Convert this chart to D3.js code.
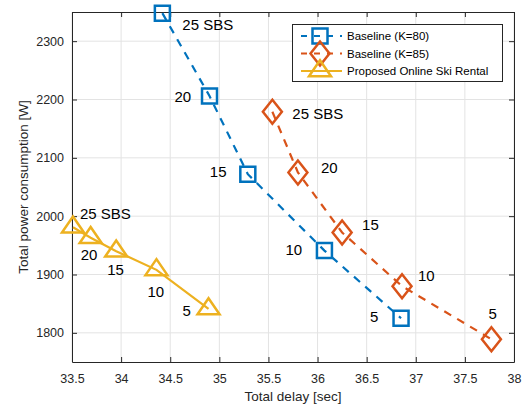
<!DOCTYPE html>
<html>
<head>
<meta charset="utf-8">
<script src="https://cdn.jsdelivr.net/npm/d3@7"></script>
<style>
  body { margin: 0; background: #fff; }
  svg text { font-family: "Liberation Sans", Arial, sans-serif; }
</style>
</head>
<body>
<div id="chart"></div>
<script>
// data
var sbsLabels = ["25 SBS", "20", "15", "10", "5"];

var k80Delay = [34.42, 34.90, 35.29, 36.07, 36.85];
var k80Power = [2348, 2206, 2072, 1941, 1825];

var k85Delay = [35.54, 35.80, 36.25, 36.86, 37.77];
var k85Power = [2179, 2075, 1972, 1880, 1789];

var skiDelay = [33.51, 33.69, 33.95, 34.36, 34.89];
var skiPower = [1981, 1963, 1940, 1908, 1841];

var seriesNames = ["Baseline (K=80)", "Baseline (K=85)", "Proposed Online Ski Rental"];

var xTicks = [33.5, 34, 34.5, 35, 35.5, 36, 36.5, 37, 37.5, 38];
var yTicks = [1800, 1900, 2000, 2100, 2200, 2300];

// label offsets in px (from marker centre)
var k80Off = [[20, 17], [-35, 6], [-38, 3], [-39, 4], [-31, 4]];
var k85Off = [[20, 7], [23, 1], [20, -3], [16, -5], [-3, -20]];
var skiOff = [[7, -8], [-10, 22], [-9, 24], [-9, 27], [-26, 7]];

function zip(xs, ys, offs){
    var out = [];
    for (var i = 0; i < xs.length; i ++){
        out.push({x: xs[i], y: ys[i], lab: sbsLabels[i], off: offs[i]});
    }
    return out;
}

var series = [
    {name: seriesNames[0], color: "#0072BD", dash: "8,7", marker: "square", pts: zip(k80Delay, k80Power, k80Off)},
    {name: seriesNames[1], color: "#D95319", dash: "8,7", marker: "diamond", pts: zip(k85Delay, k85Power, k85Off)},
    {name: seriesNames[2], color: "#EDB120", dash: null, marker: "triangle", pts: zip(skiDelay, skiPower, skiOff)}
];

var width = 526, height = 407;
var margin = {left: 72, top: 12, right: 12, bottom: 45};
var axColor = "#262626";

var svg = d3.select("#chart").append("svg")
    .attr("width", width)
    .attr("height", height);

var x = d3.scaleLinear().domain([33.5, 38]).range([margin.left, width - margin.right]);
var y = d3.scaleLinear().domain([1750, 2350]).range([height - margin.bottom, margin.top]);

// grid
svg.append("g").selectAll("line").data(xTicks).enter().append("line")
    .attr("x1", function(d){ return x(d); }).attr("x2", function(d){ return x(d); })
    .attr("y1", y.range()[0]).attr("y2", y.range()[1])
    .attr("stroke", "#e3e3e3").attr("stroke-width", 1);
svg.append("g").selectAll("line").data(yTicks).enter().append("line")
    .attr("y1", function(d){ return y(d); }).attr("y2", function(d){ return y(d); })
    .attr("x1", x.range()[0]).attr("x2", x.range()[1])
    .attr("stroke", "#e3e3e3").attr("stroke-width", 1);

// axes (ticks inward, box on)
function styleAxis(g){
    g.select(".domain").attr("stroke", axColor);
    g.selectAll(".tick line").attr("stroke", axColor);
    g.selectAll(".tick text").attr("fill", axColor).style("font-size", "12.5px");
}
var fmt = function(d){ return String(d); };

svg.append("g")
    .attr("transform", "translate(0," + y.range()[0] + ")")
    .call(d3.axisBottom(x).tickValues(xTicks).tickFormat(fmt).tickSizeInner(-5).tickSizeOuter(0).tickPadding(12))
    .call(styleAxis);
svg.append("g")
    .attr("transform", "translate(0," + y.range()[1] + ")")
    .call(d3.axisTop(x).tickValues(xTicks).tickFormat("").tickSizeInner(-5).tickSizeOuter(0))
    .call(styleAxis);
svg.append("g")
    .attr("transform", "translate(" + x.range()[0] + ",0)")
    .call(d3.axisLeft(y).tickValues(yTicks).tickFormat(fmt).tickSizeInner(-5).tickSizeOuter(0).tickPadding(8))
    .call(styleAxis);
svg.append("g")
    .attr("transform", "translate(" + x.range()[1] + ",0)")
    .call(d3.axisRight(y).tickValues(yTicks).tickFormat("").tickSizeInner(-5).tickSizeOuter(0))
    .call(styleAxis);

// axis labels
svg.append("text")
    .attr("x", (x.range()[0] + x.range()[1]) / 2)
    .attr("y", 401)
    .attr("text-anchor", "middle")
    .style("font-size", "13.5px")
    .attr("fill", axColor)
    .text("Total delay [sec]");
svg.append("text")
    .attr("transform", "translate(28," + (y.range()[0] + y.range()[1]) / 2 + ") rotate(-90)")
    .attr("text-anchor", "middle")
    .style("font-size", "13.5px")
    .attr("fill", axColor)
    .text("Total power consumption [W]");

// marker shapes
function markerPath(type){
    if (type == "square") return "M-7.5,-7.5H7.5V7.5H-7.5Z";
    if (type == "diamond") return "M0,-12L9.5,0L0,12L-9.5,0Z";
    return "M0,-10.7L11,5.3L-11,5.3Z";
}

var line = d3.line()
    .x(function(d){ return x(d.x); })
    .y(function(d){ return y(d.y); });

series.forEach(function(s){
    svg.append("path")
        .datum(s.pts)
        .attr("d", line)
        .attr("fill", "none")
        .attr("stroke", s.color)
        .attr("stroke-width", 2.2)
        .attr("stroke-dasharray", s.dash);

    svg.append("g").selectAll("path").data(s.pts).enter().append("path")
        .attr("transform", function(d){ return "translate(" + x(d.x) + "," + y(d.y) + ")"; })
        .attr("d", markerPath(s.marker))
        .attr("fill", "none")
        .attr("stroke", s.color)
        .attr("stroke-width", 2.5);

    svg.append("g").selectAll("text").data(s.pts).enter().append("text")
        .attr("x", function(d){ return x(d.x) + d.off[0]; })
        .attr("y", function(d){ return y(d.y) + d.off[1]; })
        .style("font-size", "15px")
        .attr("fill", "#000")
        .text(function(d){ return d.lab; });
});

// legend
var lg = svg.append("g");
lg.append("rect")
    .attr("x", 292.5).attr("y", 24.5)
    .attr("width", 210).attr("height", 57)
    .attr("fill", "#fff")
    .attr("stroke", axColor)
    .attr("stroke-width", 1);

series.forEach(function(s, i){
    var ly = 36 + i * 17.5;
    lg.append("line")
        .attr("x1", 301).attr("x2", 342)
        .attr("y1", ly).attr("y2", ly)
        .attr("stroke", s.color)
        .attr("stroke-width", 2.2)
        .attr("stroke-dasharray", s.dash ? "6,7" : null);
    lg.append("path")
        .attr("transform", "translate(320," + ly + ")")
        .attr("d", markerPath(s.marker))
        .attr("fill", "none")
        .attr("stroke", s.color)
        .attr("stroke-width", 2.5);
    lg.append("text")
        .attr("x", 347)
        .attr("y", ly + 4)
        .style("font-size", "11.5px")
        .attr("fill", "#000")
        .text(s.name);
});
</script>
</body>
</html>
